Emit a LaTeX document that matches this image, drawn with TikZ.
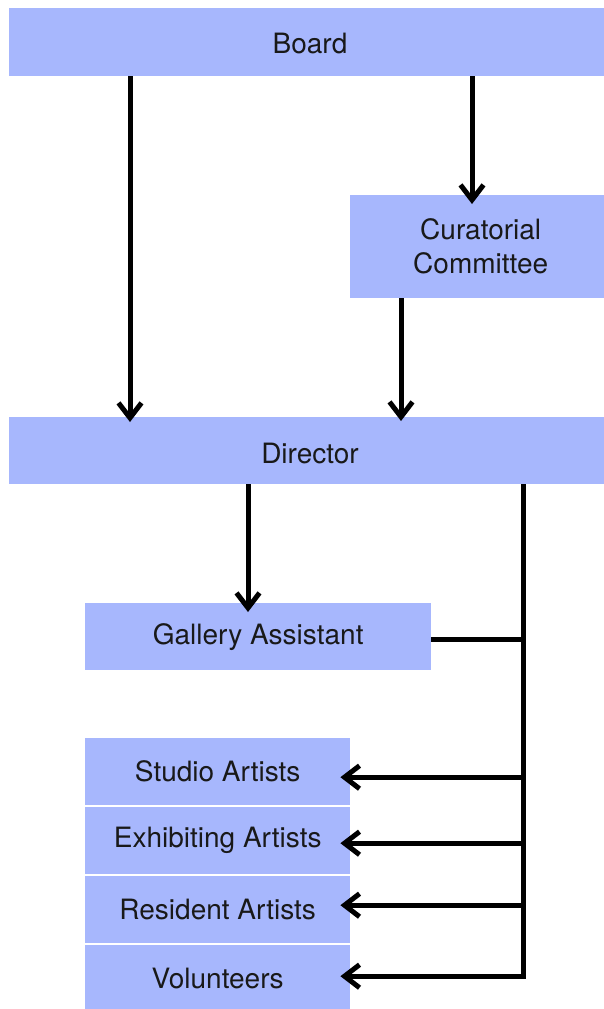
\documentclass[tikz,border=0pt]{standalone}
\usepackage{fontspec}
\setmainfont{TeX Gyre Heros}
\usetikzlibrary{arrows.meta}
\definecolor{boxblue}{RGB}{167,183,253}
\definecolor{txt}{RGB}{25,25,25}
\begin{document}
\begin{tikzpicture}[x=1pt,y=-1pt,
  box/.style={fill=boxblue, draw=none, inner sep=0pt, align=center, anchor=north west,
    font=\fontsize{28}{34}\selectfont, text=txt},
  conn/.style={line width=5pt, line join=miter,
    -{Straight Barb[length=15pt,width=23pt,line width=5pt]}},
  plain/.style={line width=5pt, line join=miter}]
\clip (0,0) rectangle (604,1009);
\useasboundingbox (0,0) rectangle (604,1009);
\fill[white] (0,0) rectangle (604,1009);
\node[box, minimum width=602pt, minimum height=68pt] (board) at (9,8) {};
\node[text=txt, font=\fontsize{28}{34}\selectfont] at (310,44) {Board};
\node[box, minimum width=261pt, minimum height=103pt] (cur) at (350,195) {Curatorial\\Committee};
\node[box, minimum width=602pt, minimum height=67pt] (dir) at (9,417) {};
\node[text=txt, font=\fontsize{28}{34}\selectfont] at (310,453) {Director};
\node[box, minimum width=346pt, minimum height=67pt] (gal) at (85,603) {Gallery Assistant};
\node[box, minimum width=265pt, minimum height=67pt] (stu) at (85,738) {Studio Artists};
\node[box, minimum width=265pt, minimum height=67pt] (exh) at (85,807) {Exhibiting Artists};
\node[box, minimum width=265pt, minimum height=67pt] (res) at (85,876) {Resident Artists};
\node[box, minimum width=265pt, minimum height=67pt] (vol) at (85,945) {Volunteers};
\coordinate (xa) at (130,0);
\coordinate (xb) at (472,0);
\coordinate (xc) at (401,0);
\coordinate (xd) at (248,0);
\coordinate (xr) at (523,0);
\coordinate (sa) at ([yshift=-5.5pt]stu.east);
\coordinate (ea) at ([yshift=-2.5pt]exh.east);
\coordinate (ra) at ([yshift=4.5pt]res.east);
\coordinate (va) at ([yshift=2.5pt]vol.east);
\coordinate (ga) at ([yshift=-2.5pt]gal.east);
\draw[conn, shorten >=-5pt] (board.south -| xa) -- (dir.north -| xa);
\draw[conn, shorten >=-9pt] (board.south -| xb) -- (cur.north -| xb);
\draw[conn, shorten >=-4pt] (cur.south -| xc) -- (dir.north -| xc);
\draw[conn, shorten >=-9pt] (dir.south -| xd) -- (gal.north -| xd);
\draw[conn, shorten >=-10pt] (dir.south -| xr) |- (va);
\draw[plain] (ga) -- (ga -| xr);
\draw[conn, shorten >=-10pt] (sa -| xr) -- (sa);
\draw[conn, shorten >=-10pt] (ea -| xr) -- (ea);
\draw[conn, shorten >=-10pt] (ra -| xr) -- (ra);
\end{tikzpicture}
\end{document}
